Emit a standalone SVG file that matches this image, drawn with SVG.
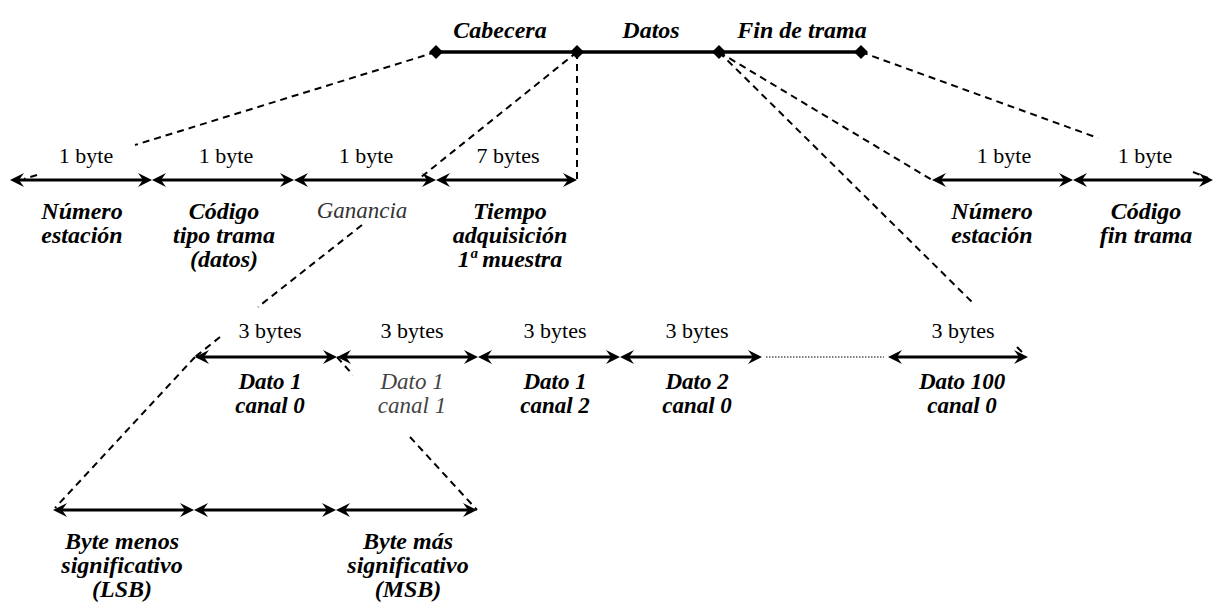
<svg xmlns="http://www.w3.org/2000/svg" width="1217" height="612" viewBox="0 0 1217 612">
<style>
.bg{fill:#fff}
text{font-family:'Liberation Serif','Times New Roman','DejaVu Serif',serif;text-anchor:middle;fill:#000}
.sz{font-size:22px}
.lb{font-size:24px;font-weight:bold;font-style:italic}
.lb2{font-size:23px;font-weight:bold;font-style:italic}
.it{font-size:23px;font-style:italic;fill:#333}
.arr{stroke:#000;stroke-width:3;fill:none;marker-start:url(#ah);marker-end:url(#ah)}
.dash{stroke:#000;stroke-width:2;fill:none;stroke-dasharray:7 5}
.frame{stroke:#000;stroke-width:3.5}
.dot{stroke:#555;stroke-width:1.3;stroke-dasharray:1.5 1.5}
</style>
<defs>
<marker id="ah" markerUnits="userSpaceOnUse" viewBox="-12 -8 18 16" refX="0" refY="0" markerWidth="18" markerHeight="16" orient="auto-start-reverse">
<path d="M4,0 L-10,-7 L-5,0 L-10,7 Z" fill="#000"/>
</marker>
<polygon id="dia" points="0,-7 7,0 0,7 -7,0" fill="#000"/>
</defs>
<rect class="bg" x="0" y="0" width="1217" height="612"/>

<g id="connectors">
<path class="dash" d="M436,52 L135,145 M37,175 L24,179"/>
<path class="dash" d="M577,52 L420,178"/>
<path class="dash" d="M577,52 L577,180"/>
<path class="dash" d="M719,52 L932,180"/>
<path class="dash" d="M719,52 L975,305 M1017,347 L1025,355"/>
<path class="dash" d="M861,52 L1098,138 M1193,172 L1208,178"/>
<path class="dash" d="M362,225 L258,307 M220,337 L195,357"/>
<path class="dash" d="M195,357 L55,508"/>
<path class="dash" d="M337,357 L353,375 M410,437 L477,510"/>
<line class="dot" x1="766" y1="357" x2="884" y2="357"/>
</g>

<g id="trama">
<line class="frame" x1="436" y1="52" x2="861" y2="52"/>
<use href="#dia" x="436" y="52"/>
<use href="#dia" x="577" y="52"/>
<use href="#dia" x="719" y="52"/>
<use href="#dia" x="861" y="52"/>
<text class="lb" x="500" y="38">Cabecera</text>
<text class="lb" x="651" y="38">Datos</text>
<text class="lb" x="802" y="38">Fin de trama</text>
</g>

<g id="numero-estacion">
<line class="arr" x1="14" y1="180" x2="148" y2="180"/>
<text class="sz" x="86" y="163">1 byte</text>
<text class="lb" x="82" y="219">Número</text>
<text class="lb" x="82" y="243">estación</text>
</g>
<g id="codigo-tipo">
<line class="arr" x1="156" y1="180" x2="290" y2="180"/>
<text class="sz" x="226" y="163">1 byte</text>
<text class="lb" x="224" y="219">Código</text>
<text class="lb" x="224" y="243">tipo trama</text>
<text class="lb" x="224" y="267">(datos)</text>
</g>
<g id="ganancia">
<line class="arr" x1="298" y1="180" x2="432" y2="180"/>
<text class="sz" x="366" y="163">1 byte</text>
<text class="it" x="362" y="218">Ganancia</text>
</g>
<g id="tiempo">
<line class="arr" x1="440" y1="180" x2="573" y2="180"/>
<text class="sz" x="508" y="163">7 bytes</text>
<text class="lb" x="510" y="219">Tiempo</text>
<text class="lb" x="510" y="243">adquisición</text>
<text class="lb" x="510" y="267">1ª muestra</text>
</g>
<g id="numero-estacion-fin">
<line class="arr" x1="936" y1="180" x2="1069" y2="180"/>
<text class="sz" x="1004" y="163">1 byte</text>
<text class="lb" x="992" y="219">Número</text>
<text class="lb" x="992" y="243">estación</text>
</g>
<g id="codigo-fin">
<line class="arr" x1="1077" y1="180" x2="1209" y2="180"/>
<text class="sz" x="1145" y="163">1 byte</text>
<text class="lb" x="1146" y="219">Código</text>
<text class="lb" x="1146" y="243">fin trama</text>
</g>

<g id="dato1-canal0">
<line class="arr" x1="199" y1="357" x2="333" y2="357"/>
<text class="sz" x="270" y="338">3 bytes</text>
<text class="lb2" x="270" y="389">Dato 1</text>
<text class="lb2" x="270" y="413">canal 0</text>
</g>
<g id="dato1-canal1">
<line class="arr" x1="341" y1="357" x2="474" y2="357"/>
<text class="sz" x="412" y="338">3 bytes</text>
<text class="it" x="412" y="389" style="fill:#444">Dato 1</text>
<text class="it" x="412" y="413" style="fill:#444">canal 1</text>
</g>
<g id="dato1-canal2">
<line class="arr" x1="482" y1="357" x2="616" y2="357"/>
<text class="sz" x="555" y="338">3 bytes</text>
<text class="lb2" x="555" y="389">Dato 1</text>
<text class="lb2" x="555" y="413">canal 2</text>
</g>
<g id="dato2-canal0">
<line class="arr" x1="624" y1="357" x2="758" y2="357"/>
<text class="sz" x="697" y="338">3 bytes</text>
<text class="lb2" x="697" y="389">Dato 2</text>
<text class="lb2" x="697" y="413">canal 0</text>
</g>
<g id="dato100-canal0">
<line class="arr" x1="892" y1="357" x2="1024" y2="357"/>
<text class="sz" x="963" y="338">3 bytes</text>
<text class="lb2" x="962" y="389">Dato 100</text>
<text class="lb2" x="962" y="413">canal 0</text>
</g>

<g id="lsb">
<line class="arr" x1="57" y1="510" x2="190" y2="510"/>
<text class="lb" x="122" y="549">Byte menos</text>
<text class="lb" x="122" y="573">significativo</text>
<text class="lb" x="122" y="597">(LSB)</text>
</g>
<g id="byte-medio">
<line class="arr" x1="198" y1="510" x2="332" y2="510"/>
</g>
<g id="msb">
<line class="arr" x1="340" y1="510" x2="473" y2="510"/>
<text class="lb" x="408" y="549">Byte más</text>
<text class="lb" x="408" y="573">significativo</text>
<text class="lb" x="408" y="597">(MSB)</text>
</g>
</svg>
